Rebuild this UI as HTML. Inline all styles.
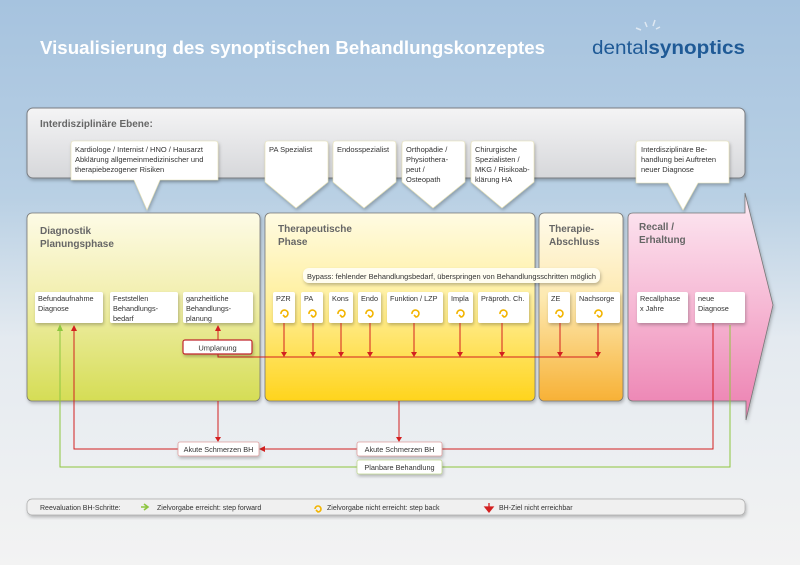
<!DOCTYPE html>
<html><head><meta charset="utf-8"><style>
body{margin:0;width:800px;height:565px;overflow:hidden;}
svg text{font-family:"Liberation Sans",sans-serif;}
</style></head><body>
<svg width="800" height="565" viewBox="0 0 800 565" xmlns="http://www.w3.org/2000/svg">
<defs>
<linearGradient id="bg" x1="0" y1="0" x2="0" y2="1">
<stop offset="0" stop-color="#a6c3df"/><stop offset="0.35" stop-color="#b9d0e4"/><stop offset="0.6" stop-color="#e4eaf0"/><stop offset="1" stop-color="#f3f3f3"/></linearGradient>
<linearGradient id="grey" x1="0" y1="0" x2="0" y2="1"><stop offset="0" stop-color="#f4f4f5"/><stop offset="1" stop-color="#d6d7da"/></linearGradient>
<linearGradient id="g1" x1="0" y1="0" x2="0" y2="1"><stop offset="0" stop-color="#fdfbe6"/><stop offset="0.4" stop-color="#f3f0b4"/><stop offset="1" stop-color="#d5dd55"/></linearGradient>
<linearGradient id="g2" x1="0" y1="0" x2="0" y2="1"><stop offset="0" stop-color="#fffbe3"/><stop offset="0.45" stop-color="#fff0a0"/><stop offset="1" stop-color="#ffd41c"/></linearGradient>
<linearGradient id="g3" x1="0" y1="0" x2="0" y2="1"><stop offset="0" stop-color="#fffbeb"/><stop offset="0.45" stop-color="#fde9b0"/><stop offset="1" stop-color="#f7b136"/></linearGradient>
<linearGradient id="g4" x1="0" y1="0" x2="0" y2="1"><stop offset="0" stop-color="#fdeaf3"/><stop offset="0.5" stop-color="#f6b8d4"/><stop offset="1" stop-color="#ec7fb0"/></linearGradient>
<marker id="ar" markerWidth="6" markerHeight="6" refX="3" refY="3" orient="auto" markerUnits="userSpaceOnUse"><path d="M0,0 L6,3 L0,6 z" fill="#d32020"/></marker>
<marker id="ag" markerWidth="6" markerHeight="6" refX="3" refY="3" orient="auto" markerUnits="userSpaceOnUse"><path d="M0,0 L6,3 L0,6 z" fill="#8dc63f"/></marker>
<filter id="sh" x="-10%" y="-10%" width="130%" height="140%"><feDropShadow dx="1" dy="2" stdDeviation="1.5" flood-color="#000" flood-opacity="0.25"/></filter>
</defs>
<rect width="800" height="565" fill="url(#bg)"/>
<text x="40" y="54" font-size="18" font-weight="bold" fill="#fff" textLength="505" lengthAdjust="spacingAndGlyphs">Visualisierung des synoptischen Behandlungskonzeptes</text>
<text x="592" y="54" font-size="19" fill="#1f5a96" textLength="153" lengthAdjust="spacingAndGlyphs">dental<tspan font-weight="bold">synoptics</tspan></text>
<g stroke="#dfe8f2" stroke-width="1.5"><line x1="645" y1="22" x2="647" y2="27"/><line x1="655" y1="20" x2="653" y2="26"/><line x1="660" y1="27" x2="656" y2="29"/><line x1="636" y1="28" x2="641" y2="30"/></g>

<!-- interdisciplinary -->
<rect x="27" y="108" width="718" height="70" rx="6" fill="url(#grey)" stroke="#7a7d82" filter="url(#sh)"/>
<text x="40" y="127" font-size="10" font-weight="bold" fill="#666">Interdisziplinäre Ebene:</text>
<g fill="#fff" filter="url(#sh)" stroke="#e6e0b0" stroke-width="0.6">
<path d="M74,141 H215 Q218,141 218,144 V180 H160 L147,210 L134,180 H71 V144 Q71,141 74,141z"/>
<path d="M268,141 H325 Q328,141 328,144 V182 L296,208 L265,182 V144 Q265,141 268,141z"/>
<path d="M336,141 H393 Q396,141 396,144 V182 L364,208 L333,182 V144 Q333,141 336,141z"/>
<path d="M405,141 H462 Q465,141 465,144 V182 L433,208 L402,182 V144 Q402,141 405,141z"/>
<path d="M474,141 H531 Q534,141 534,144 V182 L502,208 L471,182 V144 Q471,141 474,141z"/>
<path d="M639,141 H726 Q729,141 729,144 V183 H698 L683,210 L668,183 H636 V144 Q636,141 639,141z"/>
</g>
<g font-size="7.5" fill="#333">
<text x="75" y="152">Kardiologe / Internist / HNO / Hausarzt</text>
<text x="75" y="162">Abklärung allgemeinmedizinischer und</text>
<text x="75" y="172">therapiebezogener Risiken</text>
<text x="269" y="152">PA Spezialist</text>
<text x="337" y="152">Endosspezialist</text>
<text x="406" y="152">Orthopädie /</text><text x="406" y="162">Physiothera-</text><text x="406" y="172">peut /</text><text x="406" y="182">Osteopath</text>
<text x="475" y="152">Chirurgische</text><text x="475" y="162">Spezialisten /</text><text x="475" y="172">MKG / Risikoab-</text><text x="475" y="182">klärung HA</text>
<text x="641" y="152">Interdisziplinäre Be-</text><text x="641" y="162">handlung  bei Auftreten</text><text x="641" y="172">neuer Diagnose</text>
</g>

<!-- phases -->
<g stroke="#777" stroke-width="0.8" filter="url(#sh)">
<rect x="27" y="213" width="233" height="188" rx="5" fill="url(#g1)"/>
<rect x="265" y="213" width="270" height="188" rx="5" fill="url(#g2)"/>
<rect x="539" y="213" width="84" height="188" rx="5" fill="url(#g3)"/>
<path d="M633,213 H745 V193 L773,305 L746,420 V401 H633 Q628,401 628,396 V218 Q628,213 633,213z" fill="url(#g4)"/>
</g>
<g font-size="10" font-weight="bold" fill="#666">
<text x="40" y="234">Diagnostik</text><text x="40" y="247">Planungsphase</text>
<text x="278" y="232">Therapeutische</text><text x="278" y="245">Phase</text>
<text x="549" y="232">Therapie-</text><text x="549" y="245">Abschluss</text>
<text x="639" y="230">Recall /</text><text x="639" y="243">Erhaltung</text>
</g>
<rect x="303" y="268" width="297" height="15" rx="6" fill="#fffdf0" filter="url(#sh)"/>
<text x="307" y="279" font-size="7.3" fill="#333" textLength="289" lengthAdjust="spacingAndGlyphs">Bypass: fehlender Behandlungsbedarf, überspringen von Behandlungsschritten möglich</text>

<!-- step boxes -->
<g fill="#fff" filter="url(#sh)">
<rect x="35" y="292" width="68" height="31" rx="2"/><rect x="110" y="292" width="68" height="31" rx="2"/><rect x="183" y="292" width="70" height="31" rx="2"/>
<rect x="273" y="292" width="22" height="31" rx="2"/><rect x="301" y="292" width="22" height="31" rx="2"/><rect x="329" y="292" width="24" height="31" rx="2"/><rect x="358" y="292" width="23" height="31" rx="2"/><rect x="387" y="292" width="56" height="31" rx="2"/><rect x="448" y="292" width="25" height="31" rx="2"/><rect x="478" y="292" width="51" height="31" rx="2"/>
<rect x="548" y="292" width="22" height="31" rx="2"/><rect x="576" y="292" width="44" height="31" rx="2"/>
<rect x="637" y="292" width="51" height="31" rx="2"/><rect x="695" y="292" width="50" height="31" rx="2"/>
</g>
<g font-size="7.3" fill="#333">
<text x="38" y="301">Befundaufnahme</text><text x="38" y="311">Diagnose</text>
<text x="113" y="301">Feststellen</text><text x="113" y="311">Behandlungs-</text><text x="113" y="321">bedarf</text>
<text x="186" y="301">ganzheitliche</text><text x="186" y="311">Behandlungs-</text><text x="186" y="321">planung</text>
<text x="276" y="301">PZR</text><text x="304" y="301">PA</text><text x="332" y="301">Kons</text><text x="361" y="301">Endo</text><text x="390" y="301">Funktion / LZP</text><text x="451" y="301">Impla</text><text x="481" y="301">Präproth. Ch.</text>
<text x="551" y="301">ZE</text><text x="579" y="301">Nachsorge</text>
<text x="640" y="301">Recallphase</text><text x="640" y="311">x Jahre</text>
<text x="698" y="301">neue</text><text x="698" y="311">Diagnose</text>
</g>
<g fill="none" stroke="#f2b400" stroke-width="1.6">
<path d="M281,314 a3.5,3.5 0 1 1 4,3 l-2,-2"/><path d="M309,314 a3.5,3.5 0 1 1 4,3 l-2,-2"/><path d="M338,314 a3.5,3.5 0 1 1 4,3 l-2,-2"/><path d="M366,314 a3.5,3.5 0 1 1 4,3 l-2,-2"/><path d="M412,314 a3.5,3.5 0 1 1 4,3 l-2,-2"/><path d="M457,314 a3.5,3.5 0 1 1 4,3 l-2,-2"/><path d="M500,314 a3.5,3.5 0 1 1 4,3 l-2,-2"/><path d="M556,314 a3.5,3.5 0 1 1 4,3 l-2,-2"/><path d="M595,314 a3.5,3.5 0 1 1 4,3 l-2,-2"/>
</g>

<!-- connectors -->
<g stroke="#8dc63f" stroke-width="1" fill="none">
<polyline points="730,325 730,467 60,467 60,328"/>
</g>
<path d="M57,331 L60,324 L63,331z" fill="#8dc63f"/>
<g stroke="#d32020" stroke-width="1" fill="none">
<polyline points="218,350 218,357 598,357"/>
<line x1="284" y1="323" x2="284" y2="354"/><line x1="313" y1="323" x2="313" y2="354"/><line x1="341" y1="323" x2="341" y2="354"/><line x1="370" y1="323" x2="370" y2="354"/><line x1="414" y1="323" x2="414" y2="354"/><line x1="460" y1="323" x2="460" y2="354"/><line x1="502" y1="323" x2="502" y2="354"/><line x1="560" y1="323" x2="560" y2="354"/><line x1="598" y1="323" x2="598" y2="354"/>
<line x1="218" y1="340" x2="218" y2="328"/>
<line x1="218" y1="401" x2="218" y2="440"/>
<line x1="399" y1="401" x2="399" y2="440"/>
<polyline points="713,323 713,449 442,449"/>
<line x1="357" y1="449" x2="263" y2="449"/>
<polyline points="178,449 74,449 74,328"/>
</g>
<g fill="#d32020">
<path d="M281,352 L287,352 L284,357z"/><path d="M310,352 L316,352 L313,357z"/><path d="M338,352 L344,352 L341,357z"/><path d="M367,352 L373,352 L370,357z"/><path d="M411,352 L417,352 L414,357z"/><path d="M457,352 L463,352 L460,357z"/><path d="M499,352 L505,352 L502,357z"/><path d="M557,352 L563,352 L560,357z"/><path d="M595,352 L601,352 L598,357z"/>
<path d="M215,331 L221,331 L218,325z"/><path d="M71,331 L77,331 L74,325z"/>
<path d="M215,437 L221,437 L218,442z"/><path d="M396,437 L402,437 L399,442z"/>
<path d="M265,446 L265,452 L259,449z"/>
</g>
<rect x="183" y="340" width="69" height="14" rx="2" fill="#fff" stroke="#c0272d" stroke-width="1.2" filter="url(#sh)"/>
<text x="217.5" y="350.5" font-size="7.5" fill="#333" text-anchor="middle">Umplanung</text>
<g fill="#fff" stroke="#e0a0a0" stroke-width="0.8" filter="url(#sh)">
<rect x="178" y="442" width="81" height="14" rx="2"/><rect x="357" y="442" width="85" height="14" rx="2"/>
</g>
<rect x="357" y="460" width="85" height="14" rx="2" fill="#fff" stroke="#c0d890" stroke-width="0.8" filter="url(#sh)"/>
<g font-size="7.3" fill="#333" text-anchor="middle">
<text x="218.5" y="452">Akute Schmerzen BH</text><text x="399.5" y="452">Akute Schmerzen BH</text><text x="399.5" y="470">Planbare Behandlung</text>
</g>

<!-- legend -->
<rect x="27" y="499" width="718" height="16" rx="5" fill="#f0f0f0" stroke="#aaa" stroke-width="0.7" filter="url(#sh)"/>
<g font-size="7" fill="#333">
<text x="40" y="510">Reevaluation BH-Schritte:</text>
<text x="157" y="510">Zielvorgabe erreicht: step forward</text>
<text x="327" y="510">Zielvorgabe nicht erreicht: step back</text>
<text x="499" y="510">BH-Ziel nicht erreichbar</text>
</g>
<path d="M141,507 H147 M144,504 L148,507 L144,510" stroke="#8dc63f" stroke-width="1.6" fill="none"/>
<path d="M315,509 a3,3 0 1 1 3,3 l-2,-2" stroke="#f2b400" stroke-width="1.6" fill="none"/>
<path d="M489,503 V509 M485,507 L489,512 L493,507z" stroke="#d32020" stroke-width="1.3" fill="#d32020"/>
</svg>
</body></html>
